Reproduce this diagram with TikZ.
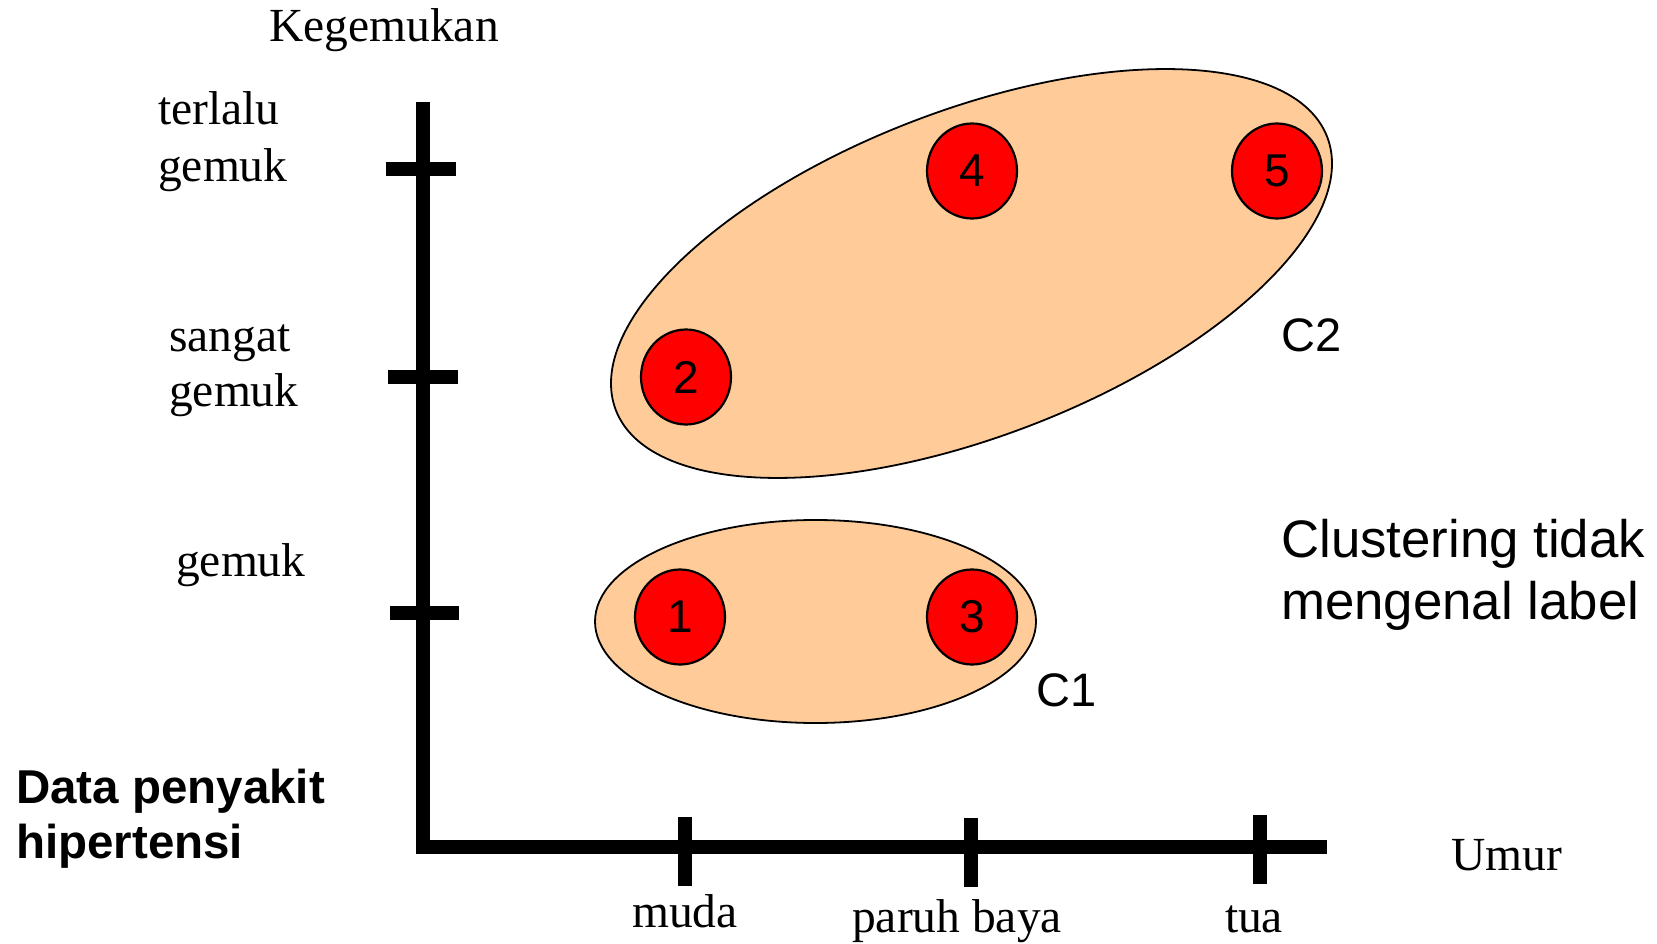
\documentclass[tikz,border=0pt]{standalone}
\usepackage{fontspec}
\setmainfont{Liberation Serif}
\setsansfont{Liberation Sans}
\usetikzlibrary{shapes.geometric}
\definecolor{peach}{RGB}{255,204,153}
\definecolor{dotred}{RGB}{255,0,0}
\begin{document}
\begin{tikzpicture}[x=1pt,y=-1pt,
  axisline/.style={line width=14pt, line join=miter},
  axtick/.style={line width=14pt},
  serif/.style={font=\fontsize{47.5}{58}\selectfont, inner sep=0pt, anchor=base west},
  sanslab/.style={font=\sffamily\fontsize{47}{56}\selectfont, inner sep=0pt, anchor=base west},
  cluster/.style={ellipse, draw=black, line width=1.8pt, fill=peach, inner sep=0pt},
  dot/.style={ellipse, draw=black, line width=2.2pt, fill=dotred, inner sep=0pt,
    minimum width=90pt, minimum height=95pt, font=\sffamily\fontsize{46}{46}\selectfont}]

% page
\useasboundingbox[fill=white] (0,0) rectangle (1657,944);

% axes
\coordinate (ytop) at (423,102);
\coordinate (orig) at (423,847);
\coordinate (xend) at (1327,847);
\draw[axisline] (ytop) -- (orig) -- (xend);

% ticks on the vertical axis
\coordinate (ty1a) at (386,169); \coordinate (ty1b) at (456,169);
\coordinate (ty2a) at (388,377); \coordinate (ty2b) at (458,377);
\coordinate (ty3a) at (390,613); \coordinate (ty3b) at (459,613);
\draw[axtick] (ty1a) -- (ty1b);
\draw[axtick] (ty2a) -- (ty2b);
\draw[axtick] (ty3a) -- (ty3b);

% ticks on the horizontal axis
\coordinate (tx1a) at (685,817); \coordinate (tx1b) at (685,886);
\coordinate (tx2a) at (971,818); \coordinate (tx2b) at (971,887);
\coordinate (tx3a) at (1260,815); \coordinate (tx3b) at (1260,884);
\draw[axtick] (tx1a) -- (tx1b);
\draw[axtick] (tx2a) -- (tx2b);
\draw[axtick] (tx3a) -- (tx3b);

% axis titles and category labels
\node[serif, anchor=base] (kg) at (384,42) {Kegemukan};
\node[serif] (tg1) at (158,125) {terlalu};
\node[serif] (tg2) at (158,182) {gemuk};
\node[serif] (sg1) at (169,351) {sangat};
\node[serif] (sg2) at (169,406) {gemuk};
\node[serif] (gm) at (176,576) {gemuk};
\node[serif, anchor=base] (muda) at (685,927) {muda};
\node[serif, anchor=base] (paruh) at (957,932) {paruh baya};
\node[serif, anchor=base] (tua) at (1254,932) {tua};
\node[serif, anchor=base] (umur) at (1507,870) {Umur};

% clusters
\node[cluster, rotate=21, minimum width=762pt, minimum height=326pt] (c2) at (971.5,273.5) {};
\node[cluster, minimum width=441pt, minimum height=203pt] (c1) at (815.5,621.5) {};

% data points
\node[dot] (p1) at (680,617) {1};
\node[dot] (p2) at (686,377) {2};
\node[dot] (p3) at (972,617) {3};
\node[dot] (p4) at (972,171) {4};
\node[dot] (p5) at (1277,171) {5};

% cluster names
\node[sanslab] (lc2) at (1281,351) {C2};
\node[sanslab] (lc1) at (1036,706) {C1};

% notes
\node[font=\sffamily\fontsize{52.8}{62}\selectfont, inner sep=0pt, anchor=base west] (cl1) at (1281,557) {Clustering tidak};
\node[font=\sffamily\fontsize{52.8}{62}\selectfont, inner sep=0pt, anchor=base west] (cl2) at (1281,619) {mengenal label};
\node[font=\sffamily\bfseries\fontsize{47.5}{55}\selectfont, inner sep=0pt, anchor=base west] (dp1) at (16,803) {Data penyakit};
\node[font=\sffamily\bfseries\fontsize{47.5}{55}\selectfont, inner sep=0pt, anchor=base west] (dp2) at (16,858) {hipertensi};
\end{tikzpicture}
\end{document}
